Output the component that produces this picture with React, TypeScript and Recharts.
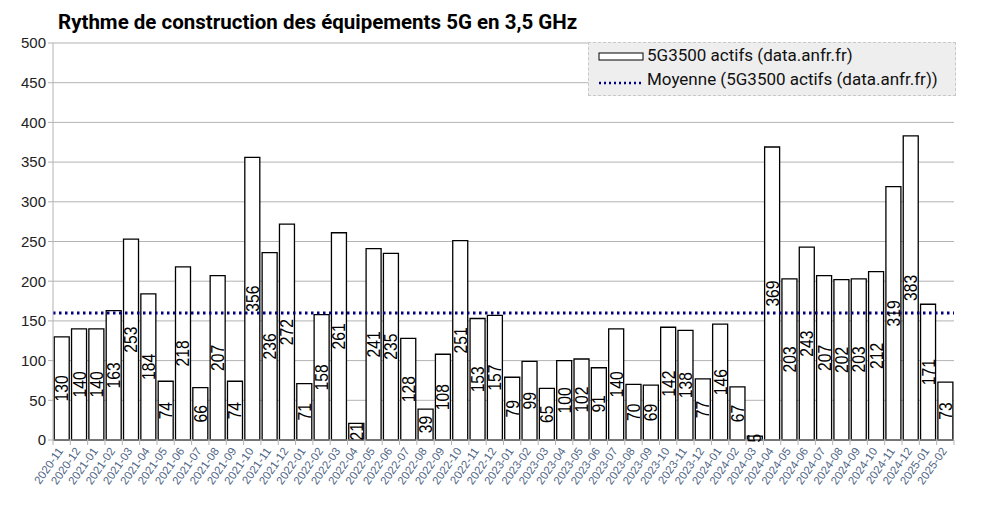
import React from 'react';
import { BarChart, Bar, XAxis, YAxis, CartesianGrid, ReferenceLine, LabelList } from 'recharts';

const months = [
  '2020-11', '2020-12',
  '2021-01', '2021-02', '2021-03', '2021-04', '2021-05', '2021-06',
  '2021-07', '2021-08', '2021-09', '2021-10', '2021-11', '2021-12',
  '2022-01', '2022-02', '2022-03', '2022-04', '2022-05', '2022-06',
  '2022-07', '2022-08', '2022-09', '2022-10', '2022-11', '2022-12',
  '2023-01', '2023-02', '2023-03', '2023-04', '2023-05', '2023-06',
  '2023-07', '2023-08', '2023-09', '2023-10', '2023-11', '2023-12',
  '2024-01', '2024-02', '2024-03', '2024-04', '2024-05', '2024-06',
  '2024-07', '2024-08', '2024-09', '2024-10', '2024-11', '2024-12',
  '2025-01', '2025-02',
];

// 5G3500 actifs (data.anfr.fr), one value per month
const actifs = [
  130, 140,
  140, 163, 253, 184, 74, 218,
  66, 207, 74, 356, 236, 272,
  71, 158, 261, 21, 241, 235,
  128, 39, 108, 251, 153, 157,
  79, 99, 65, 100, 102, 91,
  140, 70, 69, 142, 138, 77,
  146, 67, 5, 369, 203, 243,
  207, 202, 203, 212, 319, 383,
  171, 73,
];

const yTicks = [0, 50, 100, 150, 200, 250, 300, 350, 400, 450, 500];

const data = months.map((m, i) => ({ month: m, actifs: actifs[i] }));
const moyenne = actifs.reduce((a, b) => a + b, 0) / actifs.length;

const W = 985;
const H = 508;
const PLOT_LEFT = 53;
const PLOT_RIGHT = 954;
const band = (PLOT_RIGHT - PLOT_LEFT) / months.length;

const AXIS_GREY = '#b3b3b3';
const SANS = "'Liberation Sans', Arial, sans-serif";

const MonthTick = (props: any) => {
  const { x, y, payload, index } = props;
  const axisY = y - 8;
  return (
    <g>
      <line x1={x - band / 2} x2={x - band / 2} y1={axisY} y2={axisY + 5} stroke={AXIS_GREY} />
      {index === months.length - 1 && (
        <line x1={x + band / 2} x2={x + band / 2} y1={axisY} y2={axisY + 5} stroke={AXIS_GREY} />
      )}
      <text
        transform={`translate(${x + 2},${y + 3}) rotate(-55)`}
        textAnchor="end"
        fontSize={11.5}
        fontFamily={SANS}
        fill="#4f6585"
      >
        {payload.value}
      </text>
    </g>
  );
};

// value written vertically in the middle of each bar (slightly narrow glyphs)
const BarValue = (props: any) => {
  const { x, y, width, height, value } = props;
  const cx = x + width / 2;
  const cy = y + height / 2;
  return (
    <text
      transform={`translate(${cx},${cy}) rotate(-90) scale(0.85,1)`}
      textAnchor="middle"
      dominantBaseline="central"
      fontSize={18.5}
      fontFamily={SANS}
      fill="#000"
    >
      {value}
    </text>
  );
};

const LegendBox = () => (
  <div
    style={{
      position: 'absolute',
      left: 588,
      top: 42,
      width: 366,
      height: 52,
      background: '#eeeeee',
      border: '1px dashed #c8c8c8',
    }}
  >
    <svg width={366} height={52} style={{ position: 'absolute', left: 0, top: 0 }}>
      <rect x={10} y={10} width={44} height={7} fill="#fff" stroke="#000" strokeWidth={1} />
      <line x1={10} x2={54} y1={40} y2={40} stroke="#000080" strokeWidth={2.5} strokeDasharray="2 3" />
      <text x={58} y={18} fontSize={17} fontFamily="Roboto, sans-serif" fill="#111">
        5G3500 actifs (data.anfr.fr)
      </text>
      <text x={58} y={42} fontSize={17} fontFamily="Roboto, sans-serif" fill="#111">
        Moyenne (5G3500 actifs (data.anfr.fr))
      </text>
    </svg>
  </div>
);

export default function App() {
  return (
    <div style={{ position: 'fixed', left: 0, top: 0, width: W, height: H, background: '#fff' }}>
      <div
        style={{
          position: 'absolute',
          left: 58,
          top: 10,
          fontFamily: 'Roboto, sans-serif',
          fontWeight: 'bold',
          fontSize: 20.5,
          color: '#000',
          whiteSpace: 'nowrap',
        }}
      >
        Rythme de construction des équipements 5G en 3,5 GHz
      </div>
      <BarChart
        width={W}
        height={H}
        data={data}
        margin={{ top: 43, right: W - PLOT_RIGHT, left: 8, bottom: 8 }}
        barCategoryGap="7%"
      >
        <CartesianGrid vertical={false} stroke={AXIS_GREY} />
        <XAxis
          dataKey="month"
          interval={0}
          height={60}
          tickLine={false}
          stroke={AXIS_GREY}
          tick={<MonthTick />}
        />
        <YAxis
          domain={[0, 500]}
          ticks={yTicks}
          width={45}
          stroke={AXIS_GREY}
          tickSize={5}
          tick={{ fill: '#222', fontSize: 15, fontFamily: SANS }}
        />
        <YAxis
          yAxisId="border"
          orientation="right"
          width={0}
          tick={false}
          tickLine={false}
          stroke={AXIS_GREY}
        />
        <Bar dataKey="actifs" fill="#ffffff" stroke="#000" strokeWidth={1.3} isAnimationActive={false}>
          <LabelList dataKey="actifs" content={<BarValue />} />
        </Bar>
        <ReferenceLine y={moyenne} stroke="#000080" strokeWidth={3} strokeDasharray="2.5 3.5" />
      </BarChart>
      <LegendBox />
    </div>
  );
}
